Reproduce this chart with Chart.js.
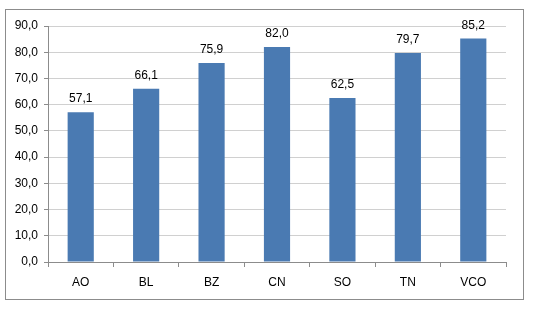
<!DOCTYPE html>
<html>
<head>
<meta charset="utf-8">
<script src="https://cdn.jsdelivr.net/npm/chart.js@4"></script>
<style>
  html, body { margin: 0; padding: 0; background: #fff; }
  #wrap { position: relative; width: 535px; height: 311px; }
</style>
</head>
<body>
<div id="wrap"><canvas id="myChart"></canvas></div>
<script>
// Chart data
const categories = ['AO', 'BL', 'BZ', 'CN', 'SO', 'TN', 'VCO'];
const values = [57.1, 66.1, 75.9, 82.0, 62.5, 79.7, 85.2];
const yMax = 90;
const yStep = 10;

const fmt = v => v.toFixed(1).replace('.', ',');

// Outer frame around the whole chart
const framePlugin = {
    id: 'frame',
    beforeDraw(chart) {
        const c = chart.ctx;
        c.save();
        c.fillStyle = '#fff';
        c.fillRect(0, 0, chart.width, chart.height);
        c.strokeStyle = '#8c8c8c';
        c.lineWidth = 1;
        c.strokeRect(5.5, 9.5, 518, 290);
        c.restore();
    }
};

// Value labels above each bar
const valueLabels = {
    id: 'valueLabels',
    afterDatasetsDraw(chart) {
        const c = chart.ctx;
        const meta = chart.getDatasetMeta(0);
        c.save();
        c.font = '12px "Liberation Sans", Arial, sans-serif';
        c.fillStyle = '#000';
        c.textAlign = 'center';
        c.textBaseline = 'alphabetic';
        meta.data.forEach((bar, i) => {
            c.fillText(fmt(values[i]), bar.x, bar.y - 10);
        });
        c.restore();
    }
};

const ctx = document.getElementById('myChart').getContext('2d');

const myChart = new Chart(ctx, {
    type: 'bar',
    data: {
        labels: categories,
        datasets: [{
            data: values,
            backgroundColor: '#4a7ab2',
            borderWidth: 0,
            categoryPercentage: 0.8,
            barPercentage: 0.5
        }]
    },
    options: {
        responsive: true,
        maintainAspectRatio: false,
        animation: false,
        layout: { padding: { top: 26, right: 29, bottom: 0, left: 0 } },
        plugins: {
            legend: { display: false },
            tooltip: { enabled: false }
        },
        scales: {
            x: {
                grid: {
                    offset: true,
                    drawOnChartArea: false,
                    drawTicks: true,
                    tickLength: 5,
                    color: '#8c8c8c'
                },
                border: { color: '#8c8c8c' },
                ticks: {
                    color: '#000',
                    padding: 8,
                    font: { family: '"Liberation Sans", Arial, sans-serif', size: 12 }
                },
                afterFit(scale) { scale.height = 49; }
            },
            y: {
                min: 0,
                max: yMax,
                ticks: {
                    stepSize: yStep,
                    color: '#000',
                    padding: 6,
                    font: { family: '"Liberation Sans", Arial, sans-serif', size: 12 },
                    callback: v => fmt(v)
                },
                grid: {
                    color: '#d0d0d0',
                    tickLength: 4,
                    tickColor: '#8c8c8c'
                },
                border: { color: '#8c8c8c' },
                afterFit(scale) { scale.width = 48; }
            }
        }
    },
    plugins: [framePlugin, valueLabels]
});
</script>
</body>
</html>
